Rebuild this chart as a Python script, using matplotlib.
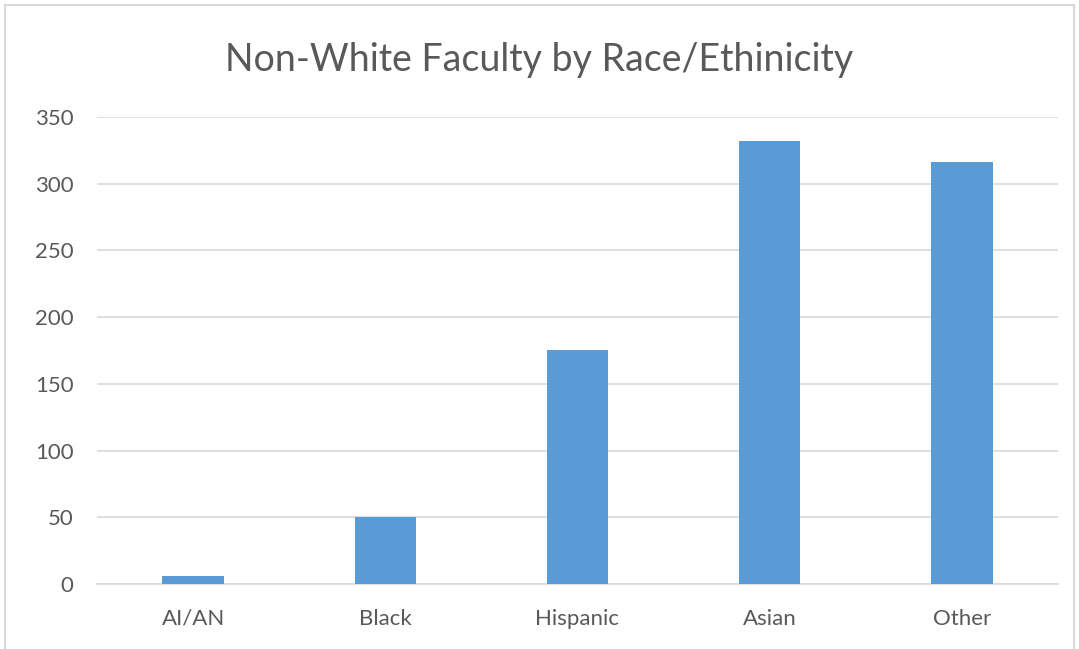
import matplotlib.pyplot as plt
from matplotlib.patches import Rectangle

categories = ["AI/AN", "Black", "Hispanic", "Asian", "Other"]
counts = [6, 50, 175, 332, 316]
yticks = [0, 50, 100, 150, 200, 250, 300, 350]

plt.rcParams["font.family"] = ["Lato", "DejaVu Sans"]

fig = plt.figure(figsize=(10.79, 6.49), dpi=100)
ax = fig.add_axes([0.0899, 0.1002, 0.8905, 0.7195])

x = range(len(categories))
ax.bar(x, counts, width=0.32, color="#5b9bd5", zorder=3)

ax.set_xlim(-0.5, len(categories) - 0.5)
ax.set_ylim(0, 350)
ax.set_yticks(yticks)
ax.set_xticks(list(x))
ax.set_xticklabels(categories)
ax.grid(axis="y", color="#d9d9d9", linewidth=1.2, zorder=0)
ax.tick_params(length=0, labelsize=16, labelcolor="#595959")
ax.tick_params(axis="x", pad=18)
ax.tick_params(axis="y", pad=17)
for s in ["top", "right", "left"]:
    ax.spines[s].set_visible(False)
ax.spines["bottom"].set_color("#d9d9d9")
ax.spines["bottom"].set_linewidth(1.2)

fig.text(0.5, 0.908, "Non-White Faculty by Race/Ethinicity",
         ha="center", va="center", fontsize=27, color="#595959")

# chart frame
fig.patches.append(Rectangle((5 / 1079, -0.01), 1069 / 1079, 1 - 5 / 649 + 0.01,
                             transform=fig.transFigure, fill=False,
                             edgecolor="#d9d9d9", linewidth=1.5))

fig.savefig("out.png", dpi=100)
